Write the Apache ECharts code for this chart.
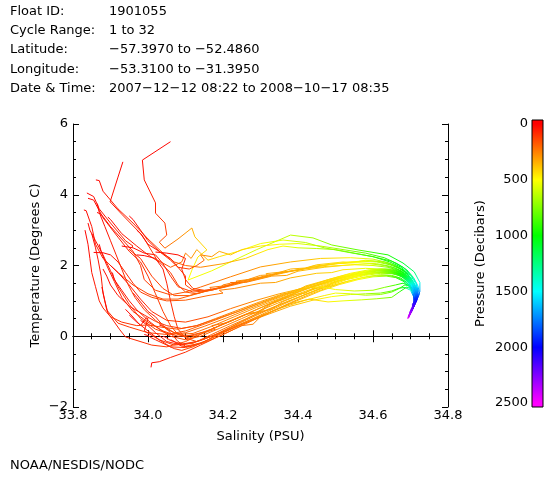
<!DOCTYPE html>
<html><head><meta charset="utf-8">
<script src="https://cdn.jsdelivr.net/npm/echarts@6/dist/echarts.min.js"></script>
<style>html,body{margin:0;padding:0;background:#fff}#c{width:560px;height:480px}</style>
</head><body><div id="c"></div>
<script>
// ---------- header / footer text ----------
const headerLabels = ['Float ID:', 'Cycle Range:', 'Latitude:', 'Longitude:', 'Date & Time:'];
const headerValues = ['1901055', '1 to 32', '\u221257.3970 to \u221252.4860', '\u221253.3100 to \u221231.3950', '2007\u221212\u221212 08:22 to 2008\u221210\u221217 08:35'];
const footerText = 'NOAA/NESDIS/NODC';

// ---------- axes ----------
const salinityTicks = [33.8, 34.0, 34.2, 34.4, 34.6, 34.8];
const temperatureTicks = [-2, 0, 2, 4, 6];
const pressureTicks = [0, 500, 1000, 1500, 2000, 2500];
const pressureColorStops = [0, 500, 1000, 1500, 2000, 2500];
const pressureColorList = [[255,0,0],[255,255,0],[0,255,0],[0,255,255],[0,0,255],[255,0,255]];

// ---------- profiles: [salinity (PSU), temperature (C), pressure (dbar)] ----------
const cycle01 = [[34.06,5.50,5],[33.985,4.98,20],[33.99,4.42,40],[34.02,3.77,60],[34.02,3.48,80],[34.045,3.20,100],[34.05,2.86,130],[34.03,2.66,160],[34.045,2.49,200],[34.08,2.75,260],[34.117,3.06,320],[34.125,2.81,380],[34.157,2.44,430],[34.133,2.24,460],[34.117,1.87,490],[34.107,1.59,510],[34.17,1.85,530],[34.21,2.05,550],[34.29,2.45,580],[34.38,2.86,620],[34.44,2.78,680],[34.49,2.58,740],[34.56,2.44,830],[34.64,2.30,950],[34.68,2.07,1080],[34.71,1.82,1200],[34.725,1.52,1450],[34.725,1.26,1700],[34.715,1.02,2000],[34.705,0.85,2150]];
const cycle02 = [[33.933,4.93,5],[33.92,4.5,20],[33.899,3.80,40],[33.93,3.45,60],[33.984,2.86,90],[34.024,2.16,120],[34.06,1.95,160],[34.09,2.10,200],[34.10,2.35,240],[34.115,2.20,280],[34.13,2.45,320],[34.145,2.30,360],[34.16,2.15,400],[34.19,2.25,440],[34.24,2.40,480],[34.30,2.62,520],[34.36,2.72,560],[34.42,2.65,620],[34.47,2.50,690],[34.53,2.38,780],[34.60,2.25,880],[34.65,2.12,980],[34.68,1.95,1100],[34.70,1.75,1220],[34.715,1.50,1450],[34.72,1.30,1650],[34.715,1.08,1920],[34.705,0.90,2100]];
const cycle03 = [[33.861,4.42,5],[33.87,4.40,15],[33.88,4.1,30],[33.92,3.6,50],[33.96,3.2,70],[34.0,2.75,100],[34.04,2.35,130],[34.07,2.1,160],[34.10,2.0,200],[34.14,1.95,250],[34.2,2.05,320],[34.26,2.2,400],[34.32,2.45,470],[34.36,2.55,520],[34.40,2.5,580],[34.45,2.48,650],[34.5,2.45,720],[34.55,2.35,800],[34.6,2.25,880],[34.645,2.1,980],[34.675,1.95,1080],[34.70,1.72,1250],[34.715,1.48,1480],[34.72,1.25,1720],[34.715,1.05,1950],[34.705,0.88,2130]];
const cycle04 = [[33.837,4.05,5],[33.855,3.95,15],[33.87,3.6,30],[33.9,3.2,50],[33.94,2.7,70],[33.96,2.55,78],[33.95,2.45,82],[33.98,2.2,90],[34.01,1.7,110],[34.04,1.35,130],[34.07,1.15,150],[34.11,1.15,175],[34.16,1.3,205],[34.19,1.36,225],[34.2,1.45,235],[34.22,1.5,245],[34.26,1.58,270],[34.3,1.72,295],[34.33,1.74,315],[34.38,1.9,345],[34.42,1.93,370],[34.45,2.02,390],[34.52,2.1,455],[34.55,2.09,500],[34.58,2.15,540],[34.62,2.1,650],[34.65,2.02,800],[34.67,1.92,930],[34.69,1.8,1080],[34.70,1.65,1250],[34.712,1.45,1500],[34.718,1.25,1720],[34.715,1.05,1950],[34.705,0.85,2150]];
const cycle05 = [[33.829,3.57,5],[33.835,3.55,15],[33.85,3.1,30],[33.86,2.6,50],[33.88,2.2,70],[33.92,1.8,90],[33.96,1.45,110],[34.0,1.2,130],[34.04,1.05,150],[34.08,1.05,170],[34.13,1.2,195],[34.17,1.32,215],[34.165,1.38,225],[34.2,1.42,235],[34.24,1.5,260],[34.235,1.56,270],[34.28,1.62,285],[34.32,1.7,310],[34.315,1.77,320],[34.36,1.82,335],[34.4,1.86,360],[34.44,1.98,385],[34.5,2.05,430],[34.56,2.08,510],[34.61,2.05,620],[34.645,1.98,780],[34.67,1.88,930],[34.69,1.75,1100],[34.703,1.58,1320],[34.713,1.4,1550],[34.72,1.2,1780],[34.714,1.0,2000],[34.703,0.8,2200],[34.698,0.68,2300]];
const cycle06 = [[33.864,3.5,5],[33.875,3.45,15],[33.9,3.1,30],[33.93,2.75,50],[33.96,2.4,70],[33.98,2.0,90],[33.99,1.6,110],[34.02,1.3,130],[34.06,1.17,150],[34.1,1.25,175],[34.14,1.39,200],[34.22,1.68,245],[34.3,1.96,295],[34.38,2.1,345],[34.46,2.2,400],[34.54,2.22,480],[34.6,2.18,590],[34.64,2.08,760],[34.665,1.96,900],[34.685,1.82,1050],[34.70,1.66,1250],[34.712,1.47,1480],[34.72,1.28,1700],[34.718,1.1,1900],[34.708,0.92,2100]];
const cycle07 = [[33.893,3.37,5],[33.9,3.3,15],[33.93,2.9,30],[33.97,2.55,50],[34.0,2.3,70],[34.03,2.1,90],[34.06,1.8,110],[34.08,1.45,130],[34.1,1.25,150],[34.13,1.2,175],[34.18,1.35,215],[34.25,1.55,265],[34.33,1.75,315],[34.4,1.88,355],[34.48,1.98,410],[34.55,2.02,490],[34.6,2.0,590],[34.64,1.95,760],[34.67,1.86,930],[34.69,1.72,1100],[34.705,1.55,1350],[34.715,1.35,1600],[34.72,1.15,1850],[34.712,0.95,2050],[34.702,0.75,2250]];
const cycle08 = [[33.855,2.37,5],[33.88,2.36,15],[33.9,2.3,30],[33.92,2.1,50],[33.94,1.8,70],[33.96,1.5,90],[33.98,1.25,110],[34.01,1.1,130],[34.05,1.0,150],[34.1,1.02,175],[34.16,1.15,205],[34.2,1.22,230],[34.19,1.3,240],[34.23,1.35,255],[34.3,1.5,295],[34.34,1.52,320],[34.38,1.65,345],[34.45,1.78,390],[34.49,1.8,420],[34.52,1.88,455],[34.58,1.92,540],[34.62,1.9,650],[34.655,1.84,830],[34.68,1.74,1000],[34.697,1.6,1200],[34.705,1.52,1350],[34.71,1.42,1480],[34.718,1.22,1750],[34.715,1.02,2000],[34.706,0.82,2180],[34.698,0.66,2320]];
const cycle09 = [[33.93,2.55,5],[33.96,2.5,15],[33.99,2.35,30],[34.02,2.3,50],[34.04,2.05,70],[34.06,1.7,90],[34.08,1.4,110],[34.12,1.25,140],[34.17,1.3,170],[34.22,1.45,210],[34.28,1.6,250],[34.35,1.78,300],[34.42,1.92,360],[34.5,2.05,430],[34.57,2.12,520],[34.61,2.1,620],[34.645,2.02,780],[34.67,1.92,930],[34.69,1.78,1080],[34.703,1.6,1300],[34.714,1.4,1550],[34.72,1.2,1780],[34.716,1.0,2000],[34.706,0.8,2200]];
const cycle10 = [[34.02,2.38,5],[34.05,2.35,15],[34.08,2.3,30],[34.1,2.2,50],[34.09,1.9,70],[34.1,1.6,90],[34.12,1.35,110],[34.15,1.3,140],[34.2,1.38,180],[34.23,1.48,205],[34.22,1.52,215],[34.26,1.52,230],[34.33,1.7,290],[34.37,1.72,320],[34.4,1.84,345],[34.47,1.95,400],[34.54,2.02,470],[34.59,2.05,560],[34.63,2.0,700],[34.66,1.92,860],[34.68,1.8,1020],[34.697,1.64,1230],[34.71,1.45,1500],[34.718,1.25,1720],[34.716,1.05,1950],[34.708,0.86,2150],[34.7,0.7,2280]];
const cycle11 = [[33.85,2.9,5],[33.86,2.5,15],[33.867,2.16,30],[33.875,1.7,45],[33.88,1.22,60],[33.89,0.74,75],[33.92,0.37,90],[33.95,0.26,105],[34.0,0.1,120],[34.05,0.05,140],[34.1,0.15,165],[34.16,0.38,205],[34.22,0.62,245],[34.28,0.86,285],[34.35,1.12,325],[34.42,1.38,370],[34.48,1.6,415],[34.54,1.78,480],[34.59,1.88,560],[34.63,1.9,690],[34.66,1.86,860],[34.68,1.76,1000],[34.695,1.62,1200],[34.708,1.44,1480],[34.716,1.24,1720],[34.716,1.04,1950],[34.71,0.86,2150],[34.702,0.7,2280]];
const cycle12 = [[33.877,1.39,5],[33.885,1.0,15],[33.893,0.66,30],[33.925,0.18,50],[33.94,-0.02,70],[34.01,-0.25,95],[34.05,-0.3,120],[34.1,-0.15,150],[34.15,0.1,190],[34.18,0.2,210],[34.17,0.3,220],[34.21,0.38,235],[34.27,0.65,275],[34.3,0.7,295],[34.33,0.92,315],[34.39,1.18,355],[34.42,1.22,375],[34.45,1.42,390],[34.51,1.62,440],[34.56,1.76,500],[34.6,1.84,590],[34.635,1.86,720],[34.66,1.8,860],[34.68,1.7,1000],[34.695,1.55,1250],[34.707,1.36,1550],[34.714,1.16,1800],[34.712,0.96,2050],[34.704,0.78,2220],[34.697,0.62,2350]];
const cycle13 = [[34.008,-0.88,5],[34.01,-0.75,20],[34.03,-0.72,40],[34.06,-0.6,60],[34.1,-0.45,85],[34.14,-0.25,115],[34.18,-0.05,150],[34.23,0.2,190],[34.28,0.45,230],[34.33,0.7,270],[34.38,0.95,310],[34.43,1.18,350],[34.48,1.38,395],[34.53,1.55,450],[34.58,1.68,530],[34.62,1.74,640],[34.65,1.72,780],[34.675,1.64,950],[34.69,1.52,1200],[34.703,1.36,1500],[34.712,1.16,1800],[34.712,0.96,2050],[34.706,0.76,2250],[34.698,0.6,2380],[34.694,0.5,2460]];
const cycle14 = [[33.94,0.76,5],[33.955,0.6,15],[33.98,0.3,30],[33.995,0.52,45],[34.0,0.5,55],[33.99,0.15,70],[34.03,-0.1,90],[34.07,-0.25,115],[34.12,-0.2,145],[34.17,0.05,185],[34.22,0.3,225],[34.28,0.58,265],[34.34,0.85,305],[34.4,1.1,345],[34.46,1.34,385],[34.52,1.52,440],[34.57,1.65,510],[34.61,1.72,610],[34.64,1.72,750],[34.665,1.66,900],[34.685,1.55,1100],[34.7,1.4,1400],[34.71,1.2,1700],[34.712,1.0,2000],[34.707,0.8,2200],[34.7,0.64,2330],[34.695,0.52,2430]];
const cycle15 = [[33.84,3.2,5],[33.845,3.0,15],[33.86,2.7,30],[33.88,2.3,45],[33.9,1.85,60],[33.92,1.4,75],[33.95,0.9,90],[33.98,0.5,105],[34.02,0.2,125],[34.06,0.05,145],[34.1,0.1,170],[34.15,0.28,205],[34.21,0.52,245],[34.27,0.78,280],[34.33,1.02,315],[34.39,1.25,350],[34.45,1.46,390],[34.5,1.62,430],[34.55,1.75,490],[34.6,1.85,590],[34.635,1.88,720],[34.66,1.84,860],[34.68,1.74,1020],[34.696,1.58,1280],[34.707,1.4,1550],[34.716,1.2,1780],[34.715,1.0,2000],[34.708,0.82,2180],[34.7,0.66,2310]];
const cycle16 = [[33.84,3.9,5],[33.855,3.85,15],[33.88,3.35,30],[33.92,2.8,45],[33.95,2.4,60],[33.98,2.1,75],[34.0,1.7,90],[34.02,1.2,105],[34.04,0.7,120],[34.06,0.3,135],[34.08,0.05,150],[34.11,-0.05,170],[34.15,0.1,200],[34.2,0.35,235],[34.26,0.62,270],[34.29,0.66,290],[34.32,0.88,310],[34.38,1.12,345],[34.44,1.35,385],[34.47,1.38,405],[34.5,1.55,430],[34.55,1.7,490],[34.6,1.8,590],[34.635,1.82,720],[34.66,1.78,860],[34.68,1.68,1020],[34.695,1.52,1260],[34.706,1.34,1550],[34.713,1.14,1820],[34.711,0.94,2050],[34.703,0.76,2240],[34.696,0.6,2360]];
const cycle17 = [[34.03,0.32,5],[34.035,0.3,20],[34.04,0.28,40],[34.045,0.25,60],[34.06,0.1,80],[34.08,-0.15,100],[34.1,-0.28,125],[34.14,-0.2,160],[34.19,0.05,200],[34.24,0.3,240],[34.3,0.6,290],[34.36,0.9,330],[34.42,1.18,370],[34.48,1.42,410],[34.53,1.6,460],[34.58,1.72,540],[34.62,1.78,650],[34.65,1.77,800],[34.675,1.7,960],[34.69,1.58,1200],[34.703,1.42,1500],[34.712,1.22,1750],[34.714,1.02,2000],[34.708,0.82,2200],[34.7,0.66,2330],[34.694,0.54,2430]];
const cycle18 = [[33.99,0.05,5],[34.0,0.02,20],[34.01,-0.05,40],[34.02,-0.1,60],[34.04,-0.2,80],[34.07,-0.35,100],[34.09,-0.4,125],[34.12,-0.3,155],[34.16,-0.1,190],[34.2,0.15,230],[34.25,0.42,265],[34.3,0.7,295],[34.33,0.76,310],[34.36,0.98,330],[34.42,1.24,370],[34.47,1.46,405],[34.52,1.62,455],[34.57,1.74,520],[34.61,1.8,620],[34.645,1.8,780],[34.67,1.74,950],[34.69,1.62,1200],[34.704,1.46,1480],[34.713,1.26,1700],[34.715,1.06,1950],[34.708,0.86,2150],[34.7,0.68,2300],[34.694,0.55,2410]];
const cycle19 = [[33.905,1.8,5],[33.91,1.6,15],[33.93,1.3,30],[33.95,1.0,45],[33.97,0.75,60],[34.0,0.45,80],[34.03,0.2,100],[34.06,0.0,120],[34.1,-0.1,145],[34.14,0.0,180],[34.19,0.22,220],[34.25,0.5,265],[34.31,0.78,300],[34.37,1.04,335],[34.43,1.28,375],[34.49,1.5,420],[34.54,1.66,480],[34.59,1.78,570],[34.63,1.82,690],[34.66,1.8,860],[34.68,1.72,1000],[34.695,1.58,1250],[34.707,1.4,1520],[34.715,1.2,1780],[34.714,1.0,2000],[34.707,0.82,2180],[34.7,0.66,2320]];
const cycle20 = [[33.96,1.22,5],[33.97,1.1,15],[33.985,0.9,30],[34.0,0.7,45],[34.02,0.55,60],[34.04,0.3,80],[34.07,0.1,100],[34.1,0.0,125],[34.15,0.12,165],[34.21,0.38,210],[34.27,0.66,260],[34.33,0.94,300],[34.39,1.2,340],[34.45,1.44,380],[34.5,1.6,425],[34.55,1.72,490],[34.6,1.8,590],[34.635,1.82,720],[34.66,1.78,860],[34.68,1.7,1000],[34.695,1.56,1250],[34.707,1.38,1520],[34.714,1.18,1800],[34.713,0.98,2020],[34.706,0.8,2200],[34.699,0.64,2330]];
const cycle21 = [[33.87,2.6,5],[33.875,2.4,15],[33.89,2.0,30],[33.91,1.55,45],[33.93,1.1,60],[33.96,0.7,75],[34.0,0.4,90],[34.04,0.15,110],[34.08,0.0,130],[34.12,0.02,160],[34.17,0.2,205],[34.23,0.47,250],[34.29,0.76,290],[34.35,1.04,325],[34.41,1.3,360],[34.47,1.52,405],[34.52,1.68,455],[34.57,1.8,520],[34.61,1.87,620],[34.645,1.88,780],[34.67,1.82,930],[34.688,1.7,1080],[34.7,1.54,1300],[34.71,1.35,1600],[34.716,1.15,1850],[34.713,0.95,2050],[34.705,0.77,2240],[34.698,0.62,2360]];
const cycle22 = [[34.06,-0.1,5],[34.065,-0.12,20],[34.07,-0.15,40],[34.075,-0.2,60],[34.09,-0.28,80],[34.11,-0.3,105],[34.15,-0.18,140],[34.2,0.05,180],[34.25,0.3,225],[34.28,0.34,250],[34.3,0.55,270],[34.35,0.8,310],[34.41,1.06,350],[34.46,1.28,395],[34.51,1.46,440],[34.56,1.6,500],[34.6,1.68,590],[34.635,1.7,720],[34.66,1.66,880],[34.68,1.56,1080],[34.695,1.42,1400],[34.706,1.24,1700],[34.712,1.04,1950],[34.709,0.84,2150],[34.702,0.68,2300],[34.696,0.56,2400],[34.692,0.5,2470]];
const cycle23 = [[33.97,2.3,5],[33.99,2.28,15],[34.02,2.2,30],[34.04,1.9,45],[34.05,1.5,60],[34.06,1.0,75],[34.07,0.55,90],[34.08,0.2,105],[34.1,-0.05,125],[34.13,-0.15,150],[34.17,0.0,185],[34.22,0.25,225],[34.28,0.55,270],[34.34,0.84,310],[34.4,1.1,350],[34.46,1.36,395],[34.51,1.56,445],[34.56,1.7,505],[34.6,1.78,590],[34.635,1.8,720],[34.66,1.76,870],[34.68,1.66,1050],[34.695,1.5,1350],[34.706,1.32,1650],[34.713,1.12,1880],[34.711,0.92,2080],[34.704,0.74,2250],[34.697,0.6,2370]];
const cycle24 = [[33.95,0.6,5],[33.97,0.4,20],[34.0,0.15,40],[34.03,-0.1,60],[34.06,-0.3,85],[34.1,-0.32,110],[34.15,-0.15,150],[34.2,0.1,195],[34.26,0.38,245],[34.32,0.62,300],[34.38,0.85,350],[34.44,1.02,420],[34.49,1.12,500],[34.54,1.18,580],[34.58,1.2,660],[34.62,1.22,750],[34.65,1.28,850],[34.67,1.36,950],[34.685,1.38,1100],[34.7,1.3,1450],[34.708,1.12,1750],[34.71,0.92,2050],[34.703,0.72,2280],[34.695,0.56,2400]];
const cycle25 = [[33.98,0.45,5],[34.0,0.3,20],[34.02,0.1,40],[34.05,-0.15,60],[34.09,-0.25,85],[34.14,-0.12,120],[34.2,0.12,170],[34.27,0.42,230],[34.33,0.7,290],[34.38,0.92,340],[34.43,1.05,400],[34.48,0.97,470],[34.52,1.0,530],[34.57,1.03,600],[34.61,1.06,680],[34.65,1.1,780],[34.67,1.25,900],[34.69,1.39,1050],[34.7,1.35,1300],[34.708,1.18,1650],[34.71,0.98,1950],[34.705,0.78,2200],[34.698,0.62,2340],[34.693,0.52,2440]];
const cycle26 = [[33.9,2.0,5],[33.92,1.8,20],[33.95,1.45,40],[33.98,1.05,60],[34.01,0.7,80],[34.05,0.45,100],[34.1,0.4,125],[34.16,0.55,165],[34.22,0.78,215],[34.29,1.02,270],[34.35,1.2,320],[34.41,1.35,380],[34.46,1.4,450],[34.5,1.32,520],[34.55,1.28,590],[34.6,1.3,670],[34.63,1.38,750],[34.66,1.45,860],[34.68,1.5,980],[34.695,1.44,1200],[34.705,1.3,1500],[34.712,1.1,1800],[34.711,0.9,2050],[34.704,0.72,2260],[34.697,0.58,2380]];
const cycle27 = [[33.832,3.0,5],[33.84,2.6,15],[33.845,2.2,25],[33.85,1.8,35],[33.86,1.4,45],[33.87,1.0,55],[33.88,0.8,65],[33.9,0.55,80],[33.93,0.4,95],[33.97,0.3,110],[34.0,0.32,125],[34.04,0.25,140],[34.08,0.2,160],[34.13,0.3,195],[34.18,0.5,230],[34.24,0.74,265],[34.3,0.98,300],[34.36,1.2,335],[34.39,1.24,355],[34.42,1.42,375],[34.48,1.6,420],[34.53,1.74,470],[34.58,1.84,540],[34.62,1.9,650],[34.65,1.9,800],[34.675,1.82,960],[34.69,1.7,1100],[34.703,1.52,1380],[34.713,1.32,1650],[34.718,1.12,1880],[34.712,0.92,2080],[34.703,0.74,2250],[34.697,0.6,2370]];
const cycle28 = [[33.97,3.0,5],[33.98,2.9,15],[34.0,2.6,30],[34.03,2.4,45],[34.06,2.2,60],[34.08,1.95,80],[34.1,1.7,100],[34.1,1.45,120],[34.12,1.3,140],[34.16,1.28,175],[34.21,1.4,215],[34.27,1.56,265],[34.34,1.74,320],[34.41,1.9,365],[34.48,2.02,415],[34.54,2.1,480],[34.59,2.14,570],[34.63,2.1,700],[34.66,2.0,860],[34.68,1.88,1000],[34.695,1.72,1150],[34.707,1.52,1400],[34.716,1.32,1650],[34.72,1.12,1880],[34.714,0.94,2080],[34.705,0.78,2230]];
const cycle29 = [[33.88,1.9,5],[33.89,1.7,15],[33.9,1.45,25],[33.92,1.15,40],[33.95,0.85,55],[33.99,0.6,70],[34.02,0.42,85],[34.05,0.3,100],[34.09,0.22,125],[34.13,0.3,160],[34.18,0.48,200],[34.24,0.7,250],[34.3,0.95,295],[34.36,1.18,335],[34.42,1.4,370],[34.48,1.58,415],[34.53,1.72,470],[34.58,1.82,540],[34.62,1.86,650],[34.65,1.84,800],[34.675,1.76,960],[34.69,1.64,1150],[34.703,1.48,1450],[34.713,1.28,1700],[34.717,1.08,1920],[34.711,0.88,2120],[34.703,0.7,2280],[34.697,0.58,2390]];
const cycle30 = [[34.04,0.0,5],[34.045,-0.02,20],[34.05,-0.05,40],[34.06,-0.12,60],[34.09,-0.22,85],[34.13,-0.15,125],[34.18,0.05,175],[34.24,0.32,235],[34.3,0.58,290],[34.36,0.82,340],[34.42,1.02,400],[34.47,1.15,460],[34.5,1.22,520],[34.54,1.2,580],[34.58,1.16,640],[34.62,1.18,710],[34.65,1.25,800],[34.67,1.35,900],[34.685,1.45,1000],[34.698,1.42,1300],[34.706,1.26,1650],[34.71,1.06,1950],[34.708,0.86,2150],[34.7,0.68,2300],[34.694,0.56,2400]];
const cycle31 = [[33.95,3.4,5],[33.96,3.3,15],[33.98,3.0,30],[34.0,2.7,45],[34.03,2.4,60],[34.06,2.15,80],[34.08,1.95,100],[34.11,1.9,130],[34.13,2.0,170],[34.15,2.15,210],[34.14,2.3,250],[34.17,2.25,290],[34.19,2.4,330],[34.22,2.3,370],[34.25,2.45,410],[34.3,2.55,450],[34.35,2.6,500],[34.4,2.62,560],[34.46,2.55,630],[34.52,2.45,710],[34.58,2.35,800],[34.63,2.22,900],[34.665,2.05,1020],[34.69,1.88,1120],[34.708,1.66,1300],[34.72,1.42,1550],[34.724,1.2,1800],[34.716,1.0,2020],[34.706,0.82,2200]];
const cycle32 = [[33.865,3.75,5],[33.87,3.5,15],[33.885,3.1,30],[33.9,2.7,45],[33.915,2.3,60],[33.93,1.9,75],[33.945,1.5,90],[33.965,1.1,105],[33.99,0.75,120],[34.02,0.45,135],[34.05,0.2,150],[34.08,0.05,170],[34.12,0.08,195],[34.17,0.28,230],[34.23,0.55,265],[34.29,0.82,300],[34.35,1.06,335],[34.41,1.3,370],[34.47,1.5,410],[34.52,1.66,460],[34.57,1.78,530],[34.61,1.84,640],[34.645,1.84,800],[34.67,1.76,950],[34.688,1.62,1200],[34.702,1.45,1500],[34.712,1.25,1700],[34.714,1.05,1950],[34.708,0.85,2150],[34.7,0.68,2300],[34.695,0.56,2400]];

const cycles = [cycle01, cycle02, cycle03, cycle04, cycle05, cycle06, cycle07, cycle08, cycle09, cycle10, cycle11, cycle12, cycle13,
  cycle14, cycle15, cycle16, cycle17, cycle18, cycle19, cycle20, cycle21, cycle22, cycle23, cycle24, cycle25, cycle26,
  cycle27, cycle28, cycle29, cycle30, cycle31, cycle32];

// ---------- helpers ----------
function pressureColor(p) {
  const s = pressureColorStops, c = pressureColorList;
  if (p <= s[0]) return 'rgb(' + c[0].join(',') + ')';
  for (let i = 1; i < s.length; i++) {
    if (p <= s[i]) {
      const f = (p - s[i - 1]) / (s[i] - s[i - 1]);
      const r = c[i - 1].map((v, k) => Math.round(v + (c[i][k] - v) * f));
      return 'rgb(' + r.join(',') + ')';
    }
  }
  return 'rgb(' + c[c.length - 1].join(',') + ')';
}
const segments = [];
cycles.forEach(cy => {
  for (let i = 0; i < cy.length - 1; i++) {
    segments.push([cy[i][0], cy[i][1], cy[i + 1][0], cy[i + 1][1], cy[i][2], cy[i + 1][2]]);
  }
});
const FONT = 'DejaVu Sans';
const minus = v => String(v).replace('-', '\u2212');

const chart = echarts.init(document.getElementById('c'), null, {renderer: 'canvas'});
const graphics = [];
headerLabels.forEach((t, i) => {
  const y = 12 + i * 19.25;
  graphics.push({type: 'text', left: 10, top: y - 7, style: {text: t, font: '13px "' + FONT + '"', fill: '#000'}});
  graphics.push({type: 'text', left: 109, top: y - 7, style: {text: headerValues[i], font: '13px "' + FONT + '"', fill: '#000'}});
});
graphics.push({type: 'text', left: 10, top: 459, style: {text: footerText, font: '13px "' + FONT + '"', fill: '#000'}});

const axisCommon = {
  axisLine: {show: true, lineStyle: {color: '#000', width: 1}},
  axisTick: {show: true, inside: true, length: 6, lineStyle: {color: '#000'}},
  minorTick: {show: true, splitNumber: 4, length: 3, lineStyle: {color: '#000'}},
  splitLine: {show: false}
};
const labelStyle = {color: '#000', fontFamily: FONT, fontSize: 13};

const option = {
  backgroundColor: '#fff',
  animation: false,
  textStyle: {fontFamily: FONT},
  graphic: graphics,
  grid: [
    {left: 73, top: 124, width: 375, height: 283, containLabel: false, outerBoundsMode: 'none'},
    {left: 532, top: 124, width: 11, height: 279, containLabel: false, outerBoundsMode: 'none'}
  ],
  xAxis: [
    Object.assign({}, axisCommon, {gridIndex: 0, type: 'value', position: 'bottom', min: salinityTicks[0], max: salinityTicks[salinityTicks.length - 1], interval: 0.2,
      axisLabel: Object.assign({}, labelStyle, {margin: 2, formatter: v => v.toFixed(1)}),
      name: 'Salinity (PSU)', nameLocation: 'middle', nameGap: 23, nameMoveOverlap: false, nameTextStyle: labelStyle}),
    Object.assign({}, axisCommon, {gridIndex: 0, type: 'value', position: 'top', min: salinityTicks[0], max: salinityTicks[salinityTicks.length - 1], interval: 0.2,
      axisLabel: {show: false}}),
    {gridIndex: 1, type: 'value', min: 0, max: 1, show: false}
  ],
  yAxis: [
    Object.assign({}, axisCommon, {gridIndex: 0, type: 'value', position: 'left', min: temperatureTicks[0], max: temperatureTicks[temperatureTicks.length - 1], interval: 2,
      axisLabel: Object.assign({}, labelStyle, {margin: 5, formatter: v => minus(v)}),
      name: 'Temperature (Degrees C)', nameLocation: 'middle', nameGap: 31, nameMoveOverlap: false, nameRotate: 90, nameTextStyle: labelStyle}),
    Object.assign({}, axisCommon, {gridIndex: 0, type: 'value', position: 'right', min: temperatureTicks[0], max: temperatureTicks[temperatureTicks.length - 1], interval: 2,
      axisLabel: {show: false}}),
    {gridIndex: 1, type: 'value', position: 'left', inverse: true, min: pressureTicks[0], max: pressureTicks[pressureTicks.length - 1], interval: 500,
      axisLine: {show: false}, axisTick: {show: false}, splitLine: {show: false},
      axisLabel: Object.assign({}, labelStyle, {margin: 4, formatter: v => String(v)}),
      name: 'Pressure (Decibars)', nameLocation: 'middle', nameGap: 45, nameMoveOverlap: false, nameRotate: 90, nameTextStyle: labelStyle}
  ],
  series: [
    {
      type: 'custom', coordinateSystem: 'cartesian2d', xAxisIndex: 0, yAxisIndex: 0, clip: true, silent: true,
      data: segments,
      encode: {x: [0, 2], y: [1, 3]},
      renderItem: function (params, api) {
        const a = api.coord([api.value(0), api.value(1)]);
        const b = api.coord([api.value(2), api.value(3)]);
        const c1 = pressureColor(api.value(4)), c2 = pressureColor(api.value(5));
        return {
          type: 'line',
          shape: {x1: a[0], y1: a[1], x2: b[0], y2: b[1]},
          style: {
            stroke: {type: 'linear', x: a[0], y: a[1], x2: b[0] + 0.01, y2: b[1] + 0.01, global: true,
              colorStops: [{offset: 0, color: c1}, {offset: 1, color: c2}]},
            lineWidth: 1
          }
        };
      }
    },
    {
      type: 'custom', coordinateSystem: 'cartesian2d', xAxisIndex: 2, yAxisIndex: 2, clip: false, silent: true,
      data: [[0, pressureTicks[0], 1, pressureTicks[pressureTicks.length - 1]]],
      encode: {x: [0, 2], y: [1, 3]},
      renderItem: function (params, api) {
        const top = api.coord([0, api.value(1)]);
        const bot = api.coord([1, api.value(3)]);
        const maxP = api.value(3);
        const stops = pressureColorStops.map((p, i) => ({offset: p / maxP, color: 'rgb(' + pressureColorList[i].join(',') + ')'}));
        return {
          type: 'rect',
          shape: {x: params.coordSys.x, y: top[1] - 4, width: params.coordSys.width, height: bot[1] - top[1] + 8},
          style: {
            fill: {type: 'linear', x: 0, y: top[1], x2: 0, y2: bot[1], global: true, colorStops: stops},
            stroke: '#000', lineWidth: 1
          }
        };
      }
    }
  ]
};
chart.setOption(option);
</script></body></html>
